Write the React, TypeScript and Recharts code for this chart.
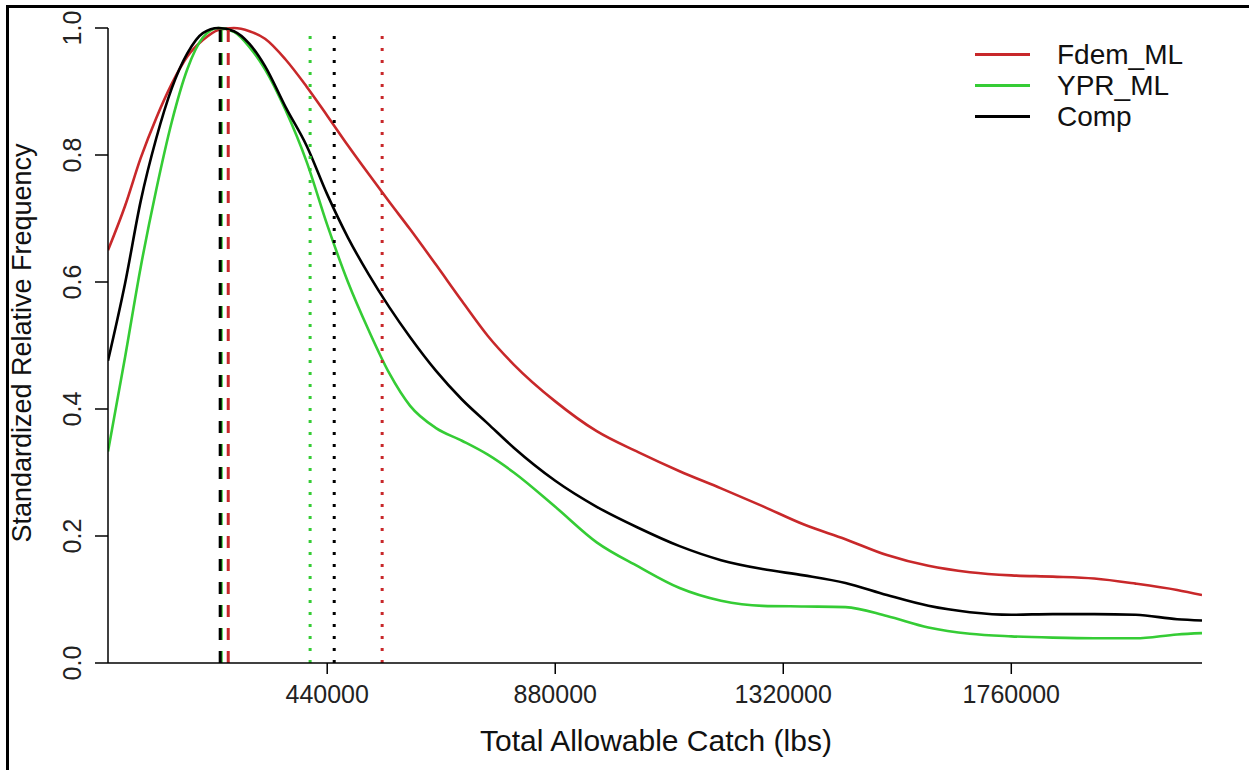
import { LineChart, Line, XAxis, YAxis, ReferenceLine, Label } from 'recharts';

// Total allowable catch (lbs) sample points
const tac = [
  17000, 50000, 80000, 110000, 140000, 170000, 200000, 230000, 260000, 290000,
  320000, 360000, 400000, 440000, 480000, 520000, 560000, 600000, 650000, 700000,
  750000, 800000, 880000, 960000, 1040000, 1120000, 1200000, 1280000, 1360000, 1440000,
  1520000, 1600000, 1680000, 1760000, 1840000, 1920000, 2000000, 2080000, 2128000,
];

const fdemML = [
  0.65, 0.72, 0.795, 0.858, 0.912, 0.955, 0.981, 0.997, 1.0, 0.995,
  0.983, 0.95, 0.908, 0.862, 0.815, 0.77, 0.726, 0.683, 0.627, 0.57,
  0.515, 0.47, 0.412, 0.365, 0.332, 0.302, 0.275, 0.247, 0.218, 0.195,
  0.17, 0.153, 0.143, 0.138, 0.136, 0.133, 0.125, 0.115, 0.107,
];

const yprML = [
  0.333, 0.482, 0.623, 0.745, 0.852, 0.935, 0.985, 1.0, 0.994, 0.97,
  0.935, 0.87, 0.79, 0.69, 0.6, 0.524, 0.456, 0.405, 0.37, 0.35,
  0.328, 0.3, 0.246, 0.19, 0.152, 0.118, 0.098, 0.09, 0.089, 0.088,
  0.074, 0.056, 0.046, 0.042, 0.04, 0.039, 0.039, 0.045, 0.047,
];

const comp = [
  0.476, 0.598, 0.727, 0.826, 0.905, 0.96, 0.992, 1.0, 0.995, 0.975,
  0.94, 0.875, 0.815, 0.738, 0.67, 0.612, 0.56, 0.513, 0.46, 0.415,
  0.377, 0.339, 0.287, 0.246, 0.213, 0.184, 0.162, 0.148, 0.138, 0.126,
  0.107, 0.09, 0.08, 0.076, 0.077, 0.077, 0.076, 0.069, 0.067,
];

// order: Fdem_ML, YPR_ML, Comp
const seriesNames = ['Fdem_ML', 'YPR_ML', 'Comp'];
const modeTAC = [249000, 235500, 233500];
const meanTAC = [546000, 407000, 453500];

const xTicks = [440000, 880000, 1320000, 1760000];
const yTicks = [0, 0.2, 0.4, 0.6, 0.8, 1.0];

const RED = '#c8282a';
const GREEN = '#35cc35';
const BLACK = '#000000';
const colors = [RED, GREEN, BLACK];
const keys = ['fdem', 'ypr', 'comp'];

const FONT = '"Liberation Sans", Arial, sans-serif';

const data = tac.map((x, i) => ({ x, fdem: fdemML[i], ypr: yprML[i], comp: comp[i] }));

function XTick({ x, payload }: any) {
  return (
    <text x={x} y={694} textAnchor="middle" dominantBaseline="central" fontSize={25} fill="#222" fontFamily={FONT}>
      {payload.value}
    </text>
  );
}

function YTick({ y, payload }: any) {
  return (
    <text
      x={72}
      y={y}
      transform={`rotate(-90 72 ${y})`}
      textAnchor="middle"
      dominantBaseline="central"
      fontSize={25}
      fill="#222"
      fontFamily={FONT}
    >
      {Number(payload.value).toFixed(1)}
    </text>
  );
}

export default function App() {
  return (
    <div style={{ position: 'absolute', left: 0, top: 0, width: 1249, height: 770, background: '#fff' }}>
      <div
        style={{
          position: 'absolute',
          left: 6,
          top: 5,
          right: 0,
          bottom: 0,
          borderLeft: '3px solid #000',
          borderTop: '3px solid #000',
        }}
      />
      <LineChart width={1249} height={770} data={data} margin={{ top: 28, right: 47, bottom: 0, left: 0 }}>
        <XAxis
          dataKey="x"
          type="number"
          domain={[17000, 2128000]}
          ticks={xTicks}
          allowDataOverflow
          height={107}
          tickSize={11}
          tick={<XTick />}
          axisLine={{ stroke: '#000', strokeWidth: 1.5 }}
          tickLine={{ stroke: '#000', strokeWidth: 1.5 }}
        >
          <Label
            content={() => (
              <text x={656} y={740} textAnchor="middle" dominantBaseline="central" fontSize={30} fill="#111" fontFamily={FONT}>
                Total Allowable Catch (lbs)
              </text>
            )}
          />
        </XAxis>
        <YAxis
          type="number"
          domain={[0, 1]}
          ticks={yTicks}
          width={108}
          tickSize={13}
          tick={<YTick />}
          axisLine={{ stroke: '#000', strokeWidth: 1.5 }}
          tickLine={{ stroke: '#000', strokeWidth: 1.5 }}
        >
          <Label
            content={() => (
              <text
                x={22}
                y={343}
                transform="rotate(-90 22 343)"
                textAnchor="middle"
                dominantBaseline="central"
                fontSize={27}
                fill="#111"
                fontFamily={FONT}
              >
                Standardized Relative Frequency
              </text>
            )}
          />
        </YAxis>
        {keys.map((k, i) => (
          <Line
            key={k}
            type="monotone"
            dataKey={k}
            name={seriesNames[i]}
            stroke={colors[i]}
            strokeWidth={2.6}
            dot={false}
            isAnimationActive={false}
          />
        ))}
        {[1, 0, 2].map((i) => (
          <ReferenceLine key={`mode-${i}`} x={modeTAC[i]} stroke={colors[i]} strokeWidth={3} strokeDasharray="12 11" />
        ))}
        {[1, 2, 0].map((i) => (
          <ReferenceLine key={`mean-${i}`} x={meanTAC[i]} stroke={colors[i]} strokeWidth={3} strokeDasharray="3 9" />
        ))}
      </LineChart>
      <div style={{ position: 'absolute', left: 975, top: 39, fontFamily: FONT, fontSize: 28, color: '#111' }}>
        {seriesNames.map((n, i) => (
          <div key={n} style={{ display: 'flex', alignItems: 'center', height: 31 }}>
            <span style={{ display: 'inline-block', width: 55, height: 0, borderTop: `3px solid ${colors[i]}`, marginRight: 27 }} />
            <span>{n}</span>
          </div>
        ))}
      </div>
    </div>
  );
}
